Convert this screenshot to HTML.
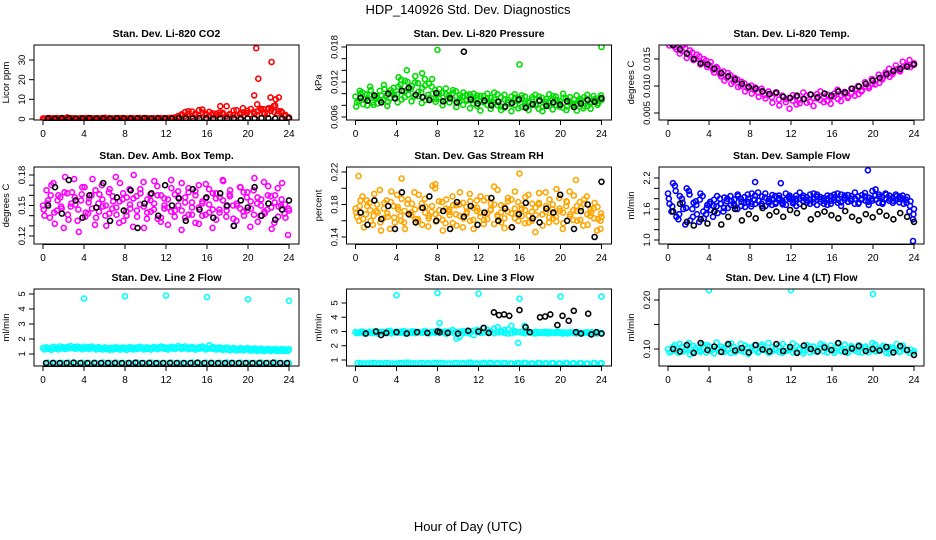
<!DOCTYPE html>
<html><head><meta charset="utf-8">
<style>
body{margin:0;background:#fff;}
svg{display:block;font-family:"Liberation Sans",Arial,sans-serif;}
</style></head>
<body>
<svg id="chart" width="936" height="540" viewBox="0 0 936 540">
<text x="468" y="14" text-anchor="middle" font-size="13">HDP_140926  Std. Dev. Diagnostics</text>
<text x="468" y="531" text-anchor="middle" font-size="13">Hour of Day (UTC)</text>
</svg>
<script>
// ---------- data ----------
const xTicks=[0,4,8,12,16,20,24];
const titles=["Stan. Dev. Li-820 CO2","Stan. Dev. Li-820 Pressure","Stan. Dev. Li-820 Temp.","Stan. Dev. Amb. Box Temp.","Stan. Dev. Gas Stream RH","Stan. Dev. Sample Flow","Stan. Dev. Line 2 Flow","Stan. Dev. Line 3 Flow","Stan. Dev. Line 4 (LT) Flow"];
const yTitles=["Licor ppm","kPa","degrees C","degrees C","percent","ml/min","ml/min","ml/min","ml/min"];
const yTickLabels=[["0","10","20","30"],["0.006","","","0.012","","","0.018"],["0.005","0.010","0.015"],["0.12","","","0.15","","","0.18"],["0.14","","0.18","","0.22"],["1.0","","","1.6","","","2.2"],["1","2","3","4","5"],["1","2","3","4","5"],["0.10","","0.20"]];
const yTickValues=[[0,10,20,30],[0.006,0.008,0.010,0.012,0.014,0.016,0.018],[0.005,0.010,0.015],[0.12,0.13,0.14,0.15,0.16,0.17,0.18],[0.14,0.16,0.18,0.20,0.22],[1.0,1.2,1.4,1.6,1.8,2.0,2.2],[1,2,3,4,5],[1,2,3,4,5],[0.10,0.15,0.20]];

const co2Red=[0.3,0.2,0.4,0.3,0.5,0.2,0.3,0.8,0.4,0.3,0.2,0.4,0.3,0.5,0.3,0.2,0.4,0.3,0.6,0.3,0.2,0.4,0.3,0.5,0.3,0.2,0.4,0.3,0.5,0.4,0.3,0.2,0.4,0.3,0.5,0.3,0.4,0.6,0.3,1.2,1.8,3.5,2.5,3.8,2.1,4.5,3.2,2.8,3.6,1.9,2.7,3.3,2.4,6.5,2.2,4.3,1.8,2.9,3.4,4.2,5.1,2.6,3.9,4.8,2.5,5.0,5.5,6.8,4.0,3.3,2.1,0.8];
const co2RedB=[0.2,0.4,0.3,0.2,0.3,0.5,0.2,0.3,0.4,0.2,0.3,0.3,0.5,0.2,0.4,0.3,0.2,0.5,0.3,0.4,0.3,0.2,0.4,0.3,0.2,0.5,0.3,0.4,0.2,0.3,0.4,0.3,0.2,0.5,0.3,0.4,0.3,0.5,0.8,1.5,2.4,1.6,3.9,1.4,2.8,1.7,4.8,2.0,1.5,2.9,1.8,2.2,3.1,1.6,2.5,1.9,4.5,2.3,1.7,3.0,2.4,3.6,2.0,5.2,3.1,2.6,4.2,3.5,2.8,3.9,1.5,0.6];
const co2SpikeX=[20.6,20.8,20.9,21.0,22.2,22.3,22.5,22.7,23.0,21.5,22.0,19.5,17.3];
const co2SpikeY=[12,36,7.5,20.5,11,29,6.5,10,11,5,5.5,5.5,6.5];
const co2Black=[0.3,0.2,0.4,0.3,0.2,0.3,0.4,0.2,0.3,0.2,0.4,0.3,0.2,0.3,0.4,0.2,0.3,0.3,0.2,0.4,0.3,0.2,0.3,0.4,0.2,0.3,0.2,0.4,0.3,0.2,0.3,0.4,0.3,0.2,0.3,0.4];

const presA=[0.0095,0.0088,0.0102,0.0091,0.0098,0.0085,0.0093,0.0105,0.0089,0.0097,0.0092,0.0110,0.0099,0.0115,0.0104,0.0120,0.0108,0.0095,0.0118,0.0102,0.0125,0.0098,0.0112,0.0106,0.0093,0.0101,0.0088,0.0097,0.0091,0.0104,0.0086,0.0095,0.0090,0.0099,0.0083,0.0092,0.0087,0.0096,0.0081,0.0093,0.0085,0.0099,0.0078,0.0090,0.0084,0.0095,0.0080,0.0088,0.0092,0.0079,0.0086,0.0094,0.0082,0.0089,0.0077,0.0091,0.0084,0.0096,0.0080,0.0087,0.0093,0.0078,0.0085,0.0090,0.0082,0.0088,0.0094,0.0079,0.0086,0.0091,0.0084,0.0089];
const presB=[0.0085,0.0100,0.0090,0.0080,0.0106,0.0094,0.0083,0.0097,0.0108,0.0086,0.0101,0.0093,0.0112,0.0090,0.0122,0.0098,0.0113,0.0130,0.0096,0.0110,0.0089,0.0117,0.0100,0.0091,0.0108,0.0087,0.0099,0.0093,0.0106,0.0084,0.0097,0.0102,0.0088,0.0094,0.0100,0.0079,0.0096,0.0089,0.0092,0.0083,0.0102,0.0087,0.0094,0.0076,0.0089,0.0082,0.0099,0.0091,0.0077,0.0095,0.0084,0.0081,0.0098,0.0074,0.0093,0.0086,0.0079,0.0090,0.0095,0.0083,0.0076,0.0092,0.0087,0.0080,0.0097,0.0085,0.0075,0.0091,0.0083,0.0096,0.0088,0.0093];
const presC=[0.0078,0.0105,0.0082,0.0099,0.0112,0.0081,0.0096,0.0088,0.0115,0.0079,0.0106,0.0098,0.0085,0.0124,0.0094,0.0108,0.0087,0.0119,0.0103,0.0084,0.0114,0.0092,0.0125,0.0086,0.0100,0.0080,0.0109,0.0085,0.0101,0.0077,0.0092,0.0081,0.0098,0.0075,0.0089,0.0097,0.0071,0.0085,0.0100,0.0074,0.0090,0.0080,0.0072,0.0098,0.0085,0.0070,0.0093,0.0075,0.0097,0.0083,0.0072,0.0090,0.0080,0.0095,0.0070,0.0082,0.0099,0.0073,0.0089,0.0078,0.0100,0.0072,0.0094,0.0083,0.0071,0.0091,0.0079,0.0098,0.0074,0.0088,0.0081,0.0097];
const presOutX=[8,24,16,5,6.5,4.2];
const presOutY=[0.0175,0.0180,0.0150,0.0140,0.0135,0.0128];
const presBlack=[0.0093,0.0088,0.0097,0.0085,0.0100,0.0092,0.0105,0.0110,0.0098,0.0094,0.0089,0.0101,0.0087,0.0092,0.0085,0.0172,0.0090,0.0083,0.0088,0.0080,0.0086,0.0078,0.0084,0.0090,0.0076,0.0082,0.0088,0.0079,0.0085,0.0081,0.0087,0.0077,0.0083,0.0089,0.0086,0.0092];

const tempA=[0.0185,0.0178,0.0172,0.0180,0.0165,0.0170,0.0158,0.0162,0.0150,0.0155,0.0143,0.0147,0.0138,0.0130,0.0135,0.0122,0.0127,0.0115,0.0120,0.0108,0.0112,0.0100,0.0105,0.0096,0.0101,0.0092,0.0088,0.0095,0.0083,0.0090,0.0079,0.0086,0.0075,0.0082,0.0070,0.0078,0.0073,0.0080,0.0068,0.0076,0.0082,0.0071,0.0078,0.0085,0.0074,0.0080,0.0072,0.0079,0.0086,0.0076,0.0083,0.0089,0.0080,0.0087,0.0094,0.0085,0.0092,0.0099,0.0096,0.0104,0.0110,0.0106,0.0115,0.0120,0.0117,0.0126,0.0131,0.0127,0.0136,0.0140,0.0135,0.0142];
const tempB=[0.0175,0.0183,0.0168,0.0160,0.0176,0.0152,0.0166,0.0148,0.0158,0.0140,0.0150,0.0135,0.0144,0.0125,0.0132,0.0118,0.0110,0.0124,0.0104,0.0115,0.0098,0.0108,0.0090,0.0099,0.0086,0.0097,0.0080,0.0091,0.0077,0.0085,0.0069,0.0088,0.0064,0.0081,0.0076,0.0058,0.0083,0.0066,0.0075,0.0088,0.0069,0.0084,0.0063,0.0077,0.0090,0.0070,0.0084,0.0067,0.0081,0.0093,0.0072,0.0085,0.0078,0.0095,0.0082,0.0100,0.0090,0.0107,0.0099,0.0113,0.0103,0.0121,0.0112,0.0125,0.0132,0.0122,0.0138,0.0129,0.0145,0.0137,0.0148,0.0139];
const tempBlack=[0.0176,0.0168,0.0160,0.0150,0.0142,0.0140,0.0132,0.0124,0.0118,0.0112,0.0104,0.0098,0.0095,0.0090,0.0085,0.0088,0.0080,0.0078,0.0082,0.0076,0.0084,0.0079,0.0086,0.0082,0.0090,0.0088,0.0095,0.0099,0.0104,0.0110,0.0115,0.0122,0.0128,0.0132,0.0136,0.0140];

const ambA=[0.150,0.165,0.138,0.172,0.145,0.158,0.128,0.162,0.149,0.176,0.135,0.155,0.168,0.142,0.160,0.131,0.152,0.170,0.140,0.163,0.147,0.178,0.133,0.156,0.144,0.166,0.129,0.159,0.151,0.173,0.137,0.161,0.146,0.169,0.134,0.157,0.148,0.175,0.139,0.164,0.126,0.153,0.167,0.141,0.160,0.132,0.154,0.171,0.143,0.162,0.136,0.158,0.174,0.145,0.165,0.130,0.150,0.168,0.140,0.163,0.147,0.177,0.134,0.156,0.142,0.169,0.127,0.160,0.149,0.172,0.138,0.145];
const ambB=[0.140,0.155,0.170,0.132,0.160,0.147,0.178,0.136,0.163,0.151,0.124,0.168,0.143,0.157,0.176,0.138,0.161,0.149,0.130,0.166,0.154,0.141,0.172,0.135,0.158,0.147,0.180,0.139,0.162,0.128,0.156,0.144,0.174,0.137,0.160,0.150,0.131,0.167,0.145,0.158,0.172,0.138,0.163,0.148,0.133,0.170,0.152,0.141,0.166,0.128,0.157,0.146,0.175,0.139,0.161,0.150,0.135,0.168,0.144,0.158,0.129,0.165,0.152,0.140,0.173,0.146,0.159,0.133,0.167,0.150,0.142,0.121];
const ambC=[0.146,0.152,0.160,0.143,0.155,0.149,0.163,0.141,0.152,0.158,0.146,0.161,0.139,0.153,0.147,0.165,0.144,0.156,0.150,0.142,0.159,0.148,0.154,0.162,0.140,0.151,0.157,0.145,0.166,0.149,0.143,0.155,0.152,0.160,0.138,0.147,0.156,0.144,0.161,0.150,0.145,0.158,0.141,0.153,0.164,0.148,0.140,0.157,0.151,0.146,0.162,0.143,0.155,0.149,0.159,0.137,0.152,0.147,0.163,0.145,0.154,0.141,0.158,0.150,0.144,0.160,0.148,0.153,0.139,0.156,0.151,0.147];
const ambBlack=[0.150,0.168,0.142,0.175,0.155,0.138,0.160,0.148,0.172,0.135,0.158,0.145,0.165,0.128,0.152,0.162,0.140,0.170,0.150,0.157,0.135,0.166,0.146,0.158,0.138,0.162,0.150,0.130,0.155,0.148,0.168,0.140,0.152,0.136,0.146,0.155];

const rhA=[0.175,0.160,0.190,0.168,0.182,0.155,0.172,0.198,0.163,0.185,0.150,0.178,0.192,0.166,0.158,0.181,0.170,0.195,0.162,0.176,0.187,0.153,0.171,0.200,0.164,0.183,0.157,0.174,0.190,0.168,0.180,0.152,0.177,0.193,0.161,0.185,0.170,0.156,0.188,0.173,0.202,0.165,0.179,0.151,0.184,0.169,0.196,0.160,0.175,0.189,0.158,0.181,0.167,0.194,0.154,0.178,0.186,0.163,0.199,0.172,0.157,0.183,0.168,0.191,0.160,0.176,0.186,0.155,0.170,0.182,0.162,0.165];
const rhB=[0.165,0.185,0.152,0.178,0.160,0.193,0.170,0.148,0.182,0.165,0.196,0.158,0.174,0.187,0.150,0.169,0.181,0.162,0.192,0.155,0.177,0.166,0.203,0.159,0.173,0.148,0.186,0.167,0.179,0.154,0.195,0.163,0.171,0.184,0.150,0.176,0.190,0.161,0.169,0.181,0.156,0.198,0.170,0.163,0.188,0.152,0.175,0.183,0.166,0.157,0.192,0.171,0.146,0.180,0.168,0.195,0.158,0.174,0.165,0.188,0.150,0.178,0.196,0.161,0.172,0.183,0.154,0.190,0.166,0.175,0.148,0.160];
const rhC=[0.170,0.178,0.162,0.185,0.173,0.166,0.180,0.158,0.175,0.169,0.183,0.164,0.177,0.160,0.172,0.186,0.167,0.174,0.159,0.181,0.170,0.163,0.178,0.168,0.184,0.161,0.175,0.171,0.157,0.179,0.166,0.182,0.169,0.160,0.176,0.172,0.165,0.185,0.162,0.174,0.180,0.167,0.158,0.177,0.171,0.186,0.163,0.169,0.179,0.173,0.166,0.160,0.176,0.182,0.168,0.171,0.164,0.180,0.159,0.175,0.170,0.184,0.165,0.173,0.178,0.161,0.181,0.168,0.174,0.163,0.177,0.169];
const rhOutX=[0.3,4.5,7.8,16,21.5,23.9];
const rhOutY=[0.215,0.212,0.205,0.218,0.210,0.150];
const rhBlack=[0.170,0.155,0.185,0.162,0.178,0.150,0.195,0.168,0.158,0.176,0.190,0.160,0.172,0.150,0.183,0.165,0.178,0.155,0.170,0.188,0.160,0.175,0.152,0.168,0.182,0.163,0.158,0.175,0.170,0.192,0.160,0.150,0.172,0.180,0.140,0.208];

const flowA=[1.90,1.55,2.05,1.40,1.80,1.30,1.95,1.60,1.75,1.35,1.85,1.50,1.70,1.45,1.65,1.80,1.55,1.75,1.85,1.70,1.60,1.80,1.72,1.88,1.65,1.78,1.92,1.70,1.82,1.75,1.68,1.85,1.78,1.72,1.90,1.80,1.74,1.86,1.70,1.82,1.77,1.88,1.73,1.84,1.79,1.70,1.86,1.76,1.82,1.72,1.88,1.78,1.74,1.85,1.80,1.72,1.87,1.76,1.82,1.95,1.78,1.84,1.73,1.88,1.80,1.76,1.85,1.79,1.70,1.83,1.75,1.60];
const flowB=[1.70,2.10,1.45,1.85,1.60,2.00,1.38,1.72,1.50,1.90,1.42,1.68,1.58,1.78,1.52,1.70,1.82,1.62,1.76,1.66,1.85,1.74,1.64,1.80,1.90,1.70,1.76,1.84,1.66,1.79,1.87,1.73,1.81,1.69,1.78,1.86,1.71,1.80,1.92,1.75,1.83,1.70,1.79,1.88,1.74,1.81,1.68,1.85,1.77,1.90,1.73,1.82,1.87,1.76,1.70,1.84,1.78,1.91,1.74,1.80,1.86,1.72,1.83,1.90,1.76,1.81,1.88,1.73,1.86,1.78,1.55,1.40];
const flowC=[1.80,1.65,1.95,1.50,1.72,1.62,1.88,1.45,1.68,1.78,1.55,1.62,1.74,1.66,1.85,1.70,1.62,1.80,1.68,1.78,1.88,1.66,1.83,1.74,1.70,1.86,1.76,1.66,1.90,1.72,1.80,1.70,1.86,1.76,1.68,1.83,1.78,1.66,1.80,1.86,1.72,1.78,1.90,1.68,1.83,1.76,1.80,1.70,1.88,1.78,1.66,1.86,1.74,1.80,1.92,1.70,1.80,1.84,1.68,1.76,1.98,1.88,1.70,1.80,1.86,1.72,1.78,1.84,1.80,1.72,1.66,1.50];
const flowOutX=[19.5,23.9,8.5,11];
const flowOutY=[2.35,0.98,2.12,2.10];
const flowBlack=[1.55,1.70,1.35,1.28,1.40,1.32,1.55,1.30,1.45,1.60,1.38,1.50,1.42,1.62,1.48,1.55,1.45,1.58,1.52,1.65,1.40,1.50,1.55,1.48,1.42,1.56,1.45,1.38,1.50,1.44,1.55,1.47,1.40,1.52,1.45,1.35];

const l2A=[1.40,1.45,1.38,1.48,1.42,1.50,1.44,1.47,1.52,1.46,1.49,1.43,1.48,1.45,1.50,1.42,1.46,1.40,1.44,1.38,1.42,1.45,1.40,1.43,1.39,1.46,1.41,1.44,1.48,1.42,1.45,1.40,1.47,1.43,1.50,1.45,1.42,1.48,1.44,1.52,1.46,1.50,1.43,1.47,1.40,1.45,1.49,1.42,1.58,1.46,1.41,1.44,1.38,1.42,1.36,1.40,1.34,1.38,1.35,1.40,1.33,1.37,1.32,1.36,1.30,1.35,1.31,1.34,1.29,1.33,1.30,1.32];
const l2B=[1.30,1.34,1.28,1.36,1.31,1.38,1.33,1.37,1.40,1.35,1.38,1.32,1.36,1.33,1.39,1.31,1.35,1.30,1.33,1.28,1.31,1.34,1.29,1.32,1.28,1.35,1.30,1.33,1.37,1.31,1.34,1.29,1.36,1.32,1.39,1.34,1.31,1.37,1.33,1.40,1.35,1.38,1.32,1.36,1.29,1.34,1.38,1.31,1.36,1.35,1.30,1.33,1.27,1.31,1.25,1.29,1.24,1.28,1.25,1.29,1.22,1.26,1.21,1.25,1.20,1.24,1.21,1.23,1.19,1.22,1.20,1.21];
const l2Low=[0.42,0.40,0.41,0.43,0.40,0.42,0.41,0.40,0.43,0.41,0.42,0.40,0.41,0.42,0.40,0.43,0.41,0.40,0.42,0.41,0.40,0.43,0.41,0.42,0.40,0.41,0.43,0.40,0.42,0.41,0.40,0.42,0.41,0.43,0.40,0.41];
const l2OutX=[4,8,12,16,20,24];
const l2OutY=[4.7,4.85,4.9,4.8,4.65,4.55];
const l2Black=[0.40,0.41,0.39,0.40,0.42,0.40,0.39,0.41,0.40,0.40,0.41,0.39,0.40,0.42,0.40,0.41,0.39,0.40,0.41,0.40,0.39,0.40,0.42,0.40,0.41,0.39,0.40,0.41,0.40,0.40,0.39,0.41,0.40,0.42,0.40,0.39];

const l3A=[2.95,2.90,3.00,2.92,2.98,2.88,3.02,2.94,2.97,2.90,3.05,2.93,2.99,2.91,3.03,2.95,2.89,3.00,2.96,2.92,3.04,2.94,2.98,2.90,3.06,2.95,2.99,2.93,3.10,2.97,2.60,3.02,2.95,2.85,3.05,2.98,3.08,2.92,3.12,2.96,3.20,2.94,3.05,2.90,3.15,2.88,3.02,2.95,2.92,3.00,2.94,2.89,2.97,2.91,2.95,2.88,2.96,2.92,2.98,2.90,2.94,2.87,2.95,2.91,2.97,2.89,2.93,2.90,2.95,2.88,2.92,2.90];
const l3B=[2.88,2.97,2.85,2.93,2.90,3.00,2.86,2.95,2.89,3.02,2.87,2.94,2.91,2.99,2.86,2.93,3.01,2.88,2.95,2.90,2.98,2.86,2.94,3.03,2.89,2.96,2.84,3.00,2.92,2.50,2.98,2.88,3.05,2.93,2.75,3.10,2.90,3.25,2.95,3.00,2.88,3.30,2.96,3.10,2.85,3.40,2.94,2.20,2.97,2.88,3.00,2.92,2.86,2.95,2.90,2.98,2.87,2.93,2.89,2.96,2.85,2.92,2.88,2.94,2.86,2.91,2.88,2.95,2.84,2.90,2.87,2.89];
const l3Low=[0.78,0.76,0.80,0.77,0.79,0.75,0.78,0.81,0.76,0.79,0.77,0.80,0.78,0.75,0.79,0.77,0.81,0.76,0.78,0.80,0.77,0.79,0.75,0.78,0.80,0.76,0.79,0.77,0.78,0.76,0.80,0.77,0.79,0.75,0.78,0.77];
const l3OutX=[4,8,12,16,20,24,8.2,16.5];
const l3OutY=[5.55,5.7,5.65,5.3,5.45,5.45,3.6,3.4];
const l3Black=[2.85,3.00,2.75,2.90,2.95,2.85,2.95,2.90,3.00,2.95,2.90,2.85,3.05,3.00,3.25,2.90,4.35,4.15,4.20,4.10,4.50,3.30,2.95,4.00,4.05,4.20,3.45,4.10,3.75,4.45,2.95,2.85,4.25,2.80,2.95,2.85];
const l3BlackX=[1,2,2.5,3,4,5,6,7,8,8.2,9,10,11,12,12.5,13,13.5,14,14.5,15,16,16.6,17,18,18.5,19,19.7,20.2,20.8,21.3,21.5,22,22.7,23,23.5,24];

const l4A=[0.100,0.095,0.108,0.092,0.104,0.098,0.112,0.094,0.102,0.097,0.109,0.093,0.105,0.099,0.113,0.095,0.101,0.107,0.092,0.104,0.098,0.110,0.094,0.103,0.097,0.108,0.093,0.105,0.099,0.112,0.095,0.101,0.106,0.092,0.104,0.098,0.111,0.094,0.102,0.097,0.108,0.093,0.105,0.099,0.110,0.095,0.101,0.107,0.092,0.104,0.098,0.109,0.094,0.103,0.097,0.108,0.093,0.105,0.099,0.112,0.095,0.101,0.106,0.092,0.104,0.098,0.110,0.094,0.102,0.097,0.099,0.096];
const l4B=[0.093,0.104,0.097,0.110,0.095,0.101,0.089,0.106,0.099,0.094,0.103,0.108,0.096,0.091,0.102,0.105,0.094,0.098,0.111,0.093,0.100,0.096,0.107,0.090,0.103,0.099,0.095,0.109,0.097,0.092,0.104,0.098,0.094,0.110,0.096,0.101,0.093,0.106,0.099,0.091,0.103,0.105,0.096,0.094,0.102,0.108,0.093,0.099,0.097,0.111,0.095,0.100,0.092,0.106,0.098,0.094,0.104,0.101,0.093,0.097,0.109,0.096,0.099,0.105,0.091,0.102,0.096,0.094,0.107,0.098,0.092,0.093];
const l4OutX=[4,12,20];
const l4OutY=[0.220,0.220,0.212];
const l4Black=[0.100,0.095,0.108,0.092,0.112,0.098,0.105,0.094,0.110,0.097,0.102,0.093,0.108,0.099,0.095,0.110,0.096,0.104,0.092,0.107,0.100,0.095,0.103,0.098,0.112,0.094,0.101,0.106,0.096,0.100,0.097,0.104,0.093,0.106,0.098,0.088];

// ---------- layout ----------
const svg=document.getElementById('chart');
const NS='http://www.w3.org/2000/svg';
const colX0=[43,355.5,668];
const rowBox=[[45,120],[167,244],[289,366]];
const yAnch=[[0,119,30,60],[0.006,117,0.018,47],[0.005,113,0.015,59],[0.12,236,0.18,175],[0.14,237,0.22,172],[1.0,240,2.2,178],[1,354,5,294],[1,360,5,303],[0.10,349,0.20,300]];

function mk(tag,attrs,parent){const e=document.createElementNS(NS,tag);for(const k in attrs)e.setAttribute(k,attrs[k]);(parent||svg).appendChild(e);return e;}
function evenX(n,a,b){const r=[];for(let i=0;i<n;i++)r.push(a+(b-a)*i/(n-1));return r;}

function panel(p,series){
  const c=p%3,r=Math.floor(p/3);
  const x0=colX0[c],x24=x0+246;
  const xs=v=>x0+(x24-x0)*v/24;
  const a=yAnch[p];
  const ys=v=>a[1]+(a[3]-a[1])*(v-a[0])/(a[2]-a[0]);
  const top=rowBox[r][0],bot=rowBox[r][1],left=x0-9,right=x24+10;
  const g=mk('g',{});
  
  
  const t=mk('text',{x:(left+right)/2,y:top-8,'text-anchor':'middle','font-size':10.5,'font-weight':'bold'},g);
  t.textContent=titles[p];
  
  
  const clip='clip'+p;
  const cp=mk('clipPath',{id:clip},g);mk('rect',{x:left,y:top,width:right-left,height:bot-top},cp);
  const pg=mk('g',{'clip-path':'url(#'+clip+')'},g);
  series.forEach(s=>{
    s.y.forEach((v,i)=>{
      const ci=mk('circle',{cx:xs(s.x[i]).toFixed(1),cy:ys(v).toFixed(1),r:2.5,fill:'none',stroke:s.col,'stroke-width':1.6},pg);
      
      
    });
  });
  const box=mk('rect',{x:left,y:top,width:right-left,height:bot-top,fill:'none',stroke:'#000','stroke-width':1},g);
  
  
  mk('line',{x1:xs(0),x2:xs(24),y1:bot+0.5,y2:bot+0.5,stroke:'#000'},g);
  xTicks.forEach(v=>{
    mk('line',{x1:xs(v),x2:xs(v),y1:bot,y2:bot+5,stroke:'#000'},g);
    const tl=mk('text',{x:xs(v),y:bot+17,'text-anchor':'middle','font-size':10},g);
    tl.textContent=v;
    
    
  });
  yTickValues[p].forEach((v,i)=>{
    const yy=ys(v);
    mk('line',{x1:left-5,x2:left,y1:yy,y2:yy,stroke:'#000'},g);
    if(!yTickLabels[p][i])return;
    const tl=mk('text',{x:left-9,y:yy,'text-anchor':'middle','font-size':9.5,transform:`rotate(-90 ${left-9} ${yy})`},g);
    tl.textContent=yTickLabels[p][i];
    
    
  });
  const yt=mk('text',{x:left-25,y:(top+bot)/2,'text-anchor':'middle','font-size':9.5,transform:`rotate(-90 ${left-25} ${(top+bot)/2})`},g);
  yt.textContent=yTitles[p];
  
  
}
const RED='#ff0000',GRN='#00dd00',MAG='#ff00ff',ORG='#ffa500',BLU='#0000ff',CYN='#00ffff',BLK='#000';
const X72=evenX(72,0,24), X36=evenX(36,0.5,24);
const X72b=evenX(72,0.15,23.9), X72c=evenX(72,0.08,23.95);
panel(0,[{x:X72,y:co2Red,col:RED},{x:X72b,y:co2RedB,col:RED},{x:co2SpikeX,y:co2SpikeY,col:RED},{x:X36,y:co2Black,col:BLK}]);
panel(1,[{x:X72,y:presA,col:GRN},{x:X72b,y:presB,col:GRN},{x:X72c,y:presC,col:GRN},{x:presOutX,y:presOutY,col:GRN},{x:X36,y:presBlack,col:BLK}]);
panel(2,[{x:X72,y:tempA,col:MAG},{x:X72b,y:tempB,col:MAG},{x:X36,y:tempBlack,col:BLK}]);
panel(3,[{x:X72,y:ambA,col:MAG},{x:X72b,y:ambB,col:MAG},{x:X72c,y:ambC,col:MAG},{x:X36,y:ambBlack,col:BLK}]);
panel(4,[{x:X72,y:rhA,col:ORG},{x:X72b,y:rhB,col:ORG},{x:X72c,y:rhC,col:ORG},{x:rhOutX,y:rhOutY,col:ORG},{x:X36,y:rhBlack,col:BLK}]);
panel(5,[{x:X72,y:flowA,col:BLU},{x:X72b,y:flowB,col:BLU},{x:X72c,y:flowC,col:BLU},{x:flowOutX,y:flowOutY,col:BLU},{x:X36,y:flowBlack,col:BLK}]);
panel(6,[{x:X72,y:l2A,col:CYN},{x:X72b,y:l2B,col:CYN},{x:X36,y:l2Low,col:CYN},{x:l2OutX,y:l2OutY,col:CYN},{x:evenX(36,0.3,23.8),y:l2Black,col:BLK}]);
panel(7,[{x:X72,y:l3A,col:CYN},{x:X72b,y:l3B,col:CYN},{x:X36,y:l3Low,col:CYN},{x:evenX(36,0.2,23.9),y:l3Low,col:CYN},{x:l3OutX,y:l3OutY,col:CYN},{x:l3BlackX,y:l3Black,col:BLK}]);
panel(8,[{x:X72,y:l4A,col:CYN},{x:X72b,y:l4B,col:CYN},{x:l4OutX,y:l4OutY,col:CYN},{x:X36,y:l4Black,col:BLK}]);
</script>
</body></html>
